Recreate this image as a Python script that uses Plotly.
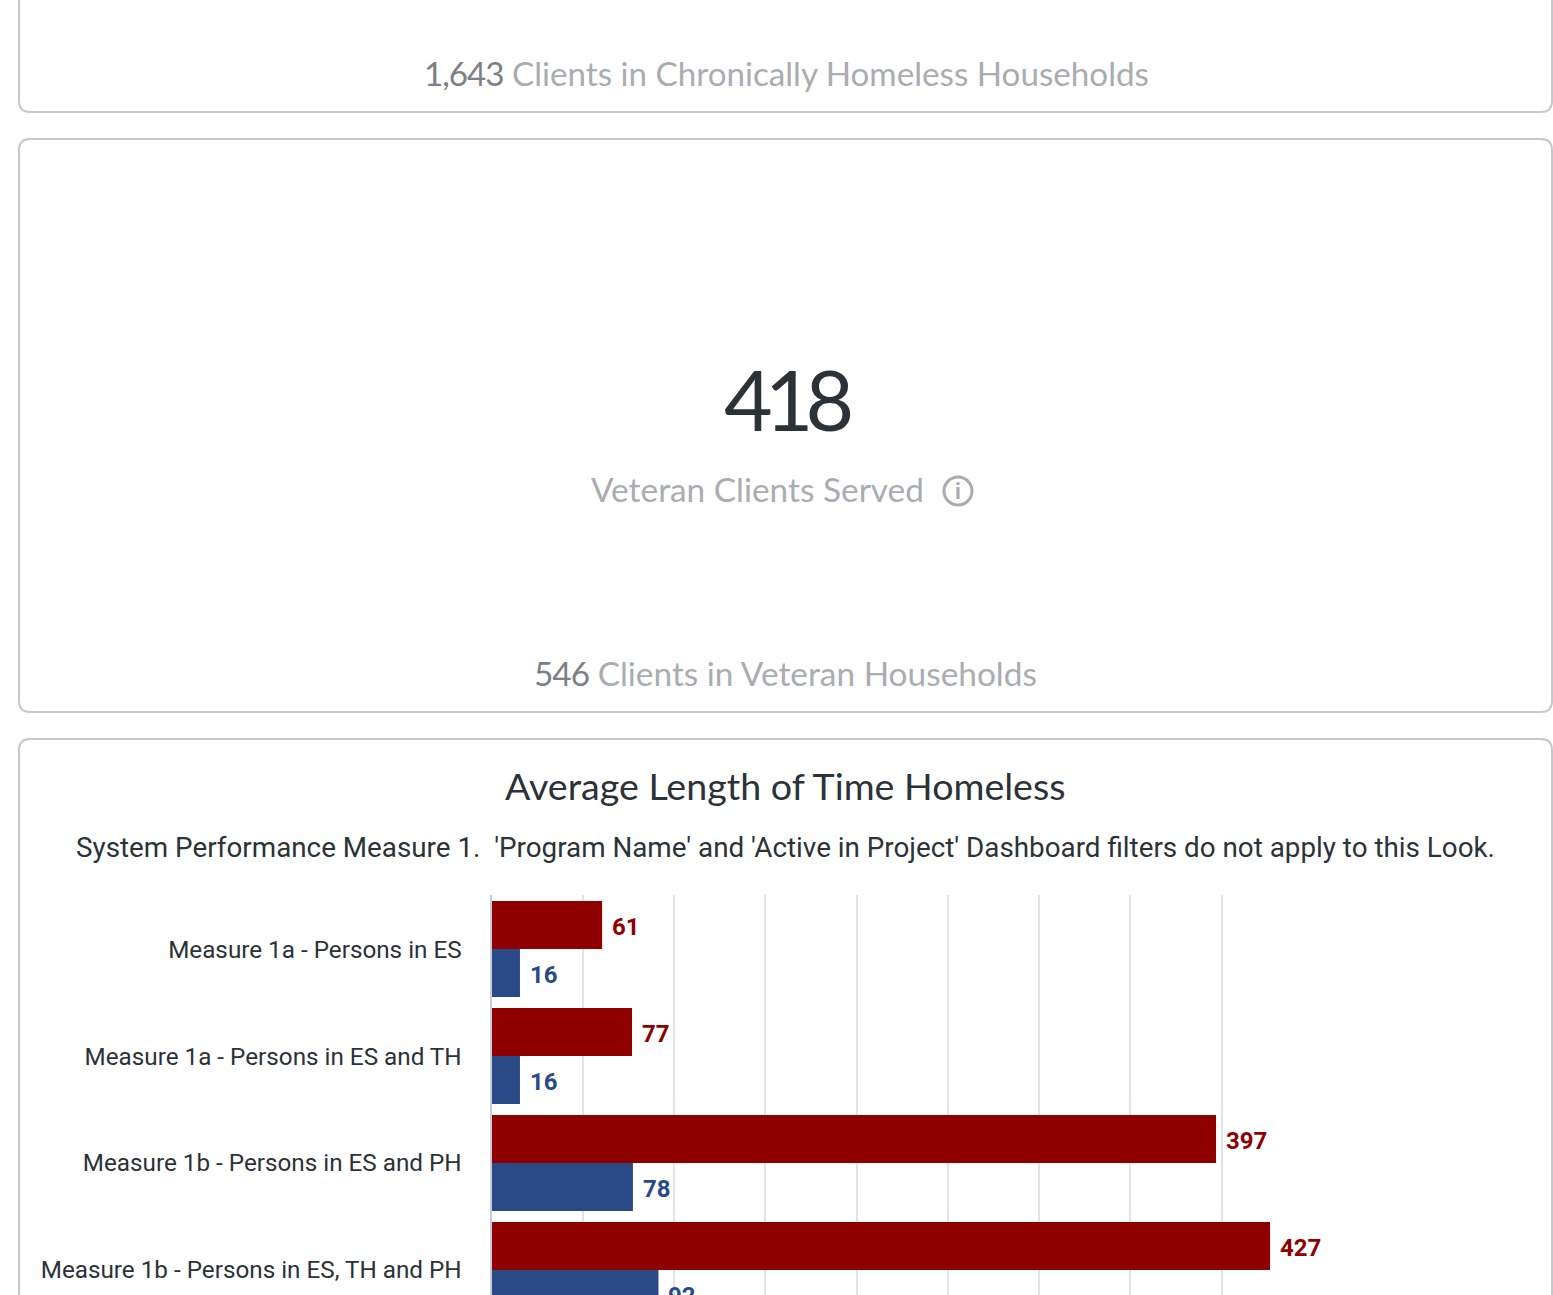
import plotly.graph_objects as go

W, H = 1553, 1295
categories = ["Measure 1a - Persons in ES", "Measure 1a - Persons in ES and TH",
              "Measure 1b - Persons in ES and PH", "Measure 1b - Persons in ES, TH and PH"]
red_values = [60.6, 77, 397, 426.6]
blue_values = [15.6, 15.6, 77.5, 91.5]
grid_ticks = [0, 50, 100, 150, 200, 250, 300, 350, 400]

RED, BLUE = "#8f0000", "#2a4a87"
DARK, MID, LIGHT = "#2b3238", "#7c8085", "#a9acb0"
BORDER = "#c5c9ce"
SANS = "Lato"
BODY = "Roboto"

def px(x): return x / W
def py(y): return 1 - y / H

def card(x0, y0, x1, y1, r=11):
    X0, X1 = px(x0), px(x1)
    rx, ry = r / W, r / H
    Y0, Y1 = py(y0), py(y1)
    return dict(type="path", xref="paper", yref="paper", layer="below",
                line=dict(color=BORDER, width=2), fillcolor="white",
                path=f"M {X0+rx} {Y0} L {X1-rx} {Y0} Q {X1} {Y0} {X1} {Y0-ry} "
                     f"L {X1} {Y1+ry} Q {X1} {Y1} {X1-rx} {Y1} L {X0+rx} {Y1} "
                     f"Q {X0} {Y1} {X0} {Y1+ry} L {X0} {Y0-ry} Q {X0} {Y0} {X0+rx} {Y0} Z")

def label(x, y, text, size, color, family=SANS, weight="normal"):
    return dict(xref="paper", yref="paper", x=px(x), y=py(y), text=text, showarrow=False,
                xanchor="center", yanchor="middle",
                font=dict(size=size, color=color, family=family, weight=weight))

def value_labels(values, color, yshift):
    return [dict(xref="x", yref="y", x=v, y=c, text=str(round(v)), showarrow=False,
                 xanchor="left", yanchor="middle", xshift=8, yshift=yshift, captureevents=False,
                 font=dict(size=24, color=color, family=BODY, weight="bold"))
            for v, c in zip(values, categories)]

fig = go.Figure()
fig.add_bar(y=categories, x=red_values, orientation="h", marker=dict(color=RED, line_width=0))
fig.add_bar(y=categories, x=blue_values, orientation="h", marker=dict(color=BLUE, line_width=0))

fig.update_layout(
    width=W, height=H, margin=dict(l=0, r=0, t=0, b=0, pad=0), showlegend=False,
    paper_bgcolor="white", plot_bgcolor="rgba(0,0,0,0)", barmode="group", bargap=0.103, bargroupgap=0,
    xaxis=dict(domain=[px(491.5), px(1500)], range=[0, 552.6], tickvals=grid_ticks, showticklabels=False,
               showgrid=True, gridcolor="#e1e3e6", gridwidth=1.5, zeroline=False, fixedrange=True),
    yaxis=dict(domain=[0, py(895)], range=[3.234, -0.505], type="category", automargin=False,
               showline=True, linecolor="#c7ccdc", linewidth=2, ticks="", ticklabelstandoff=23,
               tickfont=dict(size=24.25, color=DARK, family=BODY), fixedrange=True),
    shapes=[card(19, -40, 1552, 112), card(19, 139, 1552, 712), card(19, 739, 1552, 1340),
            dict(type="circle", xref="paper", yref="paper", x0=px(944), x1=px(972), y0=py(505), y1=py(477),
                 line=dict(color=LIGHT, width=3))],
    annotations=[
        label(786, 73, f'<span style="color:{MID};letter-spacing:-1px">1,643</span> Clients in Chronically Homeless Households', 33.2, LIGHT),
        label(787, 399, '<span style="letter-spacing:-8px">418</span>', 84, DARK),
        label(757, 489, "Veteran Clients Served", 33.4, LIGHT),
        label(958, 491, "i", 22, LIGHT, BODY, "bold"),
        label(785, 673, f'<span style="color:{MID};letter-spacing:-1px">546</span> Clients in Veteran Households', 33.4, LIGHT),
        label(785, 785, "Average Length of Time Homeless", 37.6, DARK),
        label(785, 847.5, "System Performance Measure 1.  'Program Name' and 'Active in Project' Dashboard filters do not apply to this Look.", 27.8, DARK, BODY),
    ] + value_labels(red_values, RED, 22) + value_labels(blue_values, BLUE, -26),
)
fig.write_html("out.html", config=dict(displayModeBar=False),
               post_script="document.body.style.margin='0';document.body.style.overflow='hidden';")
